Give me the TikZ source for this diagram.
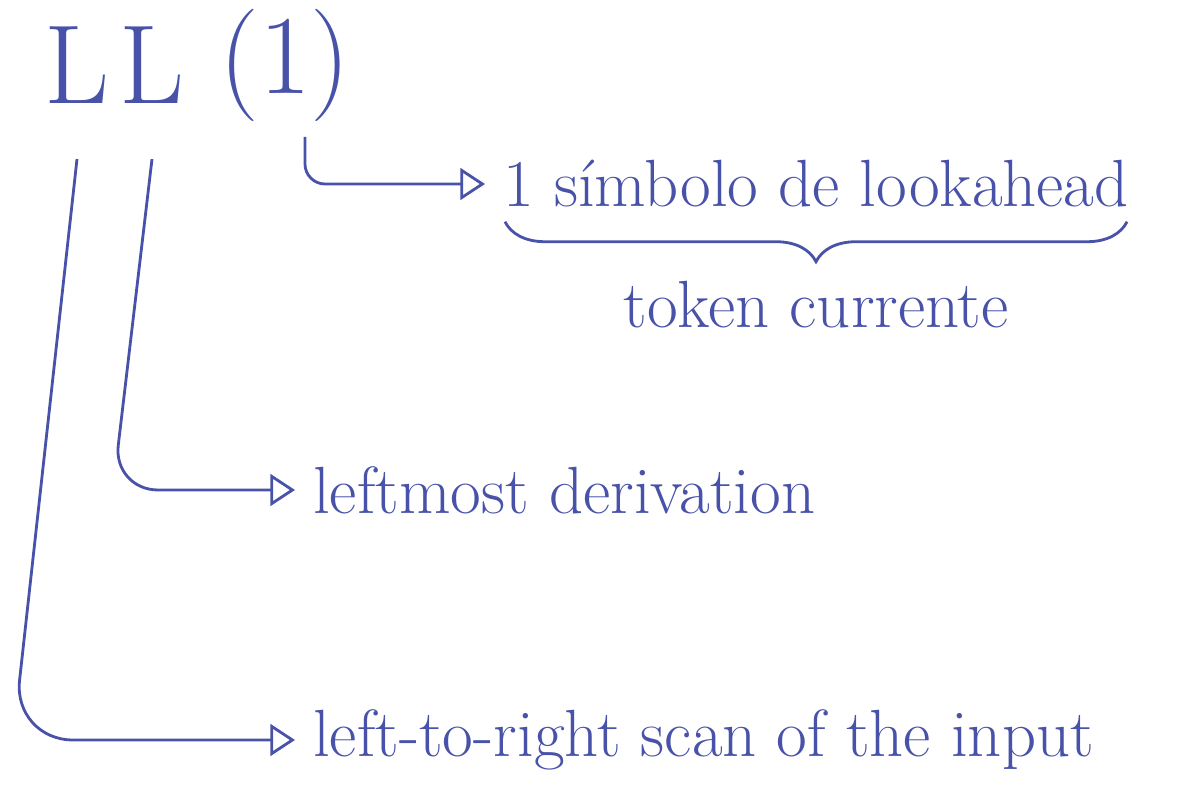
\documentclass[tikz,border=0pt]{standalone}
\usepackage{tikz}
\usetikzlibrary{arrows.meta,decorations.pathreplacing,positioning}
\definecolor{ink}{RGB}{72,82,168}

\begin{document}
\begin{tikzpicture}[
    inkline/.style={ink, line width=0.8pt, -{Triangle[open,length=7pt,width=9pt]}},
    big/.style={ink, font=\fontsize{32}{36}\selectfont, inner sep=0pt},
    word/.style={ink, font=\fontsize{19}{23}\selectfont, inner ysep=1pt, inner xsep=5pt}]
        \useasboundingbox (0,0) rectangle (11.85,8.02);
        % Title letters
        \node[big] (L1) at (0.77,7.37) {L};
        \node[big] (L2) at (1.52,7.37) {L};
        \node[big] (one) at (2.85,7.37) {(1)};
        % Define points
        \coordinate (bend1) at (0.13,0.62);
        \coordinate (bend2) at (1.13,3.12);
        % Labels
        \node[word, anchor=west] (look) at (4.85,6.18) {1 símbolo de lookahead};
        \node[word, anchor=west] (deriv) at (2.95,3.12) {leftmost derivation};
        \node[word, anchor=west] (scan) at (2.95,0.62) {left-to-right scan of the input};
        % Draw arrows
        \draw[inkline, rounded corners=0.2cm]
        ([xshift=0.2cm,yshift=-0.15cm]one.south) |- (look.west);
        \draw[inkline, rounded corners=0.45cm]
        ([yshift=-0.55cm]L2.south) -- (bend2) -- (deriv.west);
        \draw[inkline, rounded corners=0.6cm]
        ([yshift=-0.55cm]L1.south) -- (bend1) -- (scan.west);
        % Brace
        \draw[ink, line width=0.8pt, decorate, decoration={brace, mirror, amplitude=0.4cm}]
        ([xshift=0.2cm,yshift=-0.1cm]look.south west) -- ([xshift=-0.2cm,yshift=-0.1cm]look.south east)
        node[midway, below=0.55cm, word] (token) {token currente};
\end{tikzpicture}
\end{document}
